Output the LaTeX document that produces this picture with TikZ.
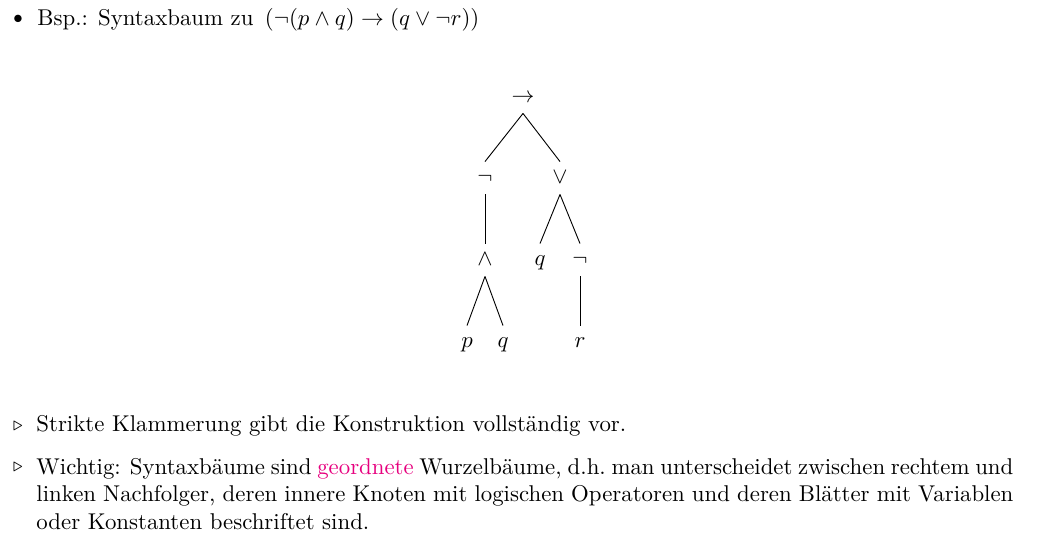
\documentclass[tikz,border=0pt]{standalone}
\usepackage{tikz}
\usetikzlibrary{positioning}
\definecolor{Mark}{HTML}{E6007E}

\begin{document}
\begin{tikzpicture}[x=0.438pt,y=-0.438pt,
    op/.style={inner sep=0pt,minimum height=14pt,text height=6pt,text depth=1pt},
    txt/.style={anchor=base west,inner sep=0pt,font=\fontsize{10}{12}\selectfont},
    item/.style={inner sep=0pt,font=\footnotesize}]
  \useasboundingbox (0,0) rectangle (1043,554);
  % Kopfzeile
  \node[inner sep=0pt,font=\large] (bul) at (18,20) {\textbullet};
  \node[txt] (head) at (37,25) {Bsp.: Syntaxbaum zu\hspace{0.5em}$(\neg(p\wedge q)\rightarrow(q\vee\neg r))$};
  % Baum
  \node[op] (imp) at (523,97) {$\rightarrow$};
  \node[op] (n1) at (485,178) {$\neg$};
  \node[op] (or) at (560,178) {$\vee$};
  \node[op] (and) at (485,260) {$\wedge$};
  \node[op] (q1) at (540,260) {$q$};
  \node[op] (n2) at (580,260) {$\neg$};
  \node[op] (p) at (467,342) {$p$};
  \node[op] (q2) at (503,342) {$q$};
  \node[op] (r) at (580,342) {$r$};
  \foreach \u/\v in {imp/n1,imp/or,n1/and,or/q1,or/n2,and/p,and/q2,n2/r}\draw (\u.south)--(\v.north);
  % Bemerkungen
  \node[item] (t1) at (18,426) {$\triangleright$};
  \node[txt] (s1) at (36,431) {Strikte Klammerung gibt die Konstruktion vollständig vor.};
  \node[item] (t2) at (18,467) {$\triangleright$};
  \node[txt,anchor=north west,text width=427.9pt,align=justify] (s2) at (36,458)
    {Wichtig: Syntaxbäume sind \textcolor{Mark}{geordnete} Wurzelbäume, d.h.\ man unterscheidet zwischen rechtem und linken Nachfolger, deren innere Knoten mit logischen Operatoren und deren Blätter mit Variablen oder Konstanten beschriftet sind.};
\end{tikzpicture}
\end{document}
